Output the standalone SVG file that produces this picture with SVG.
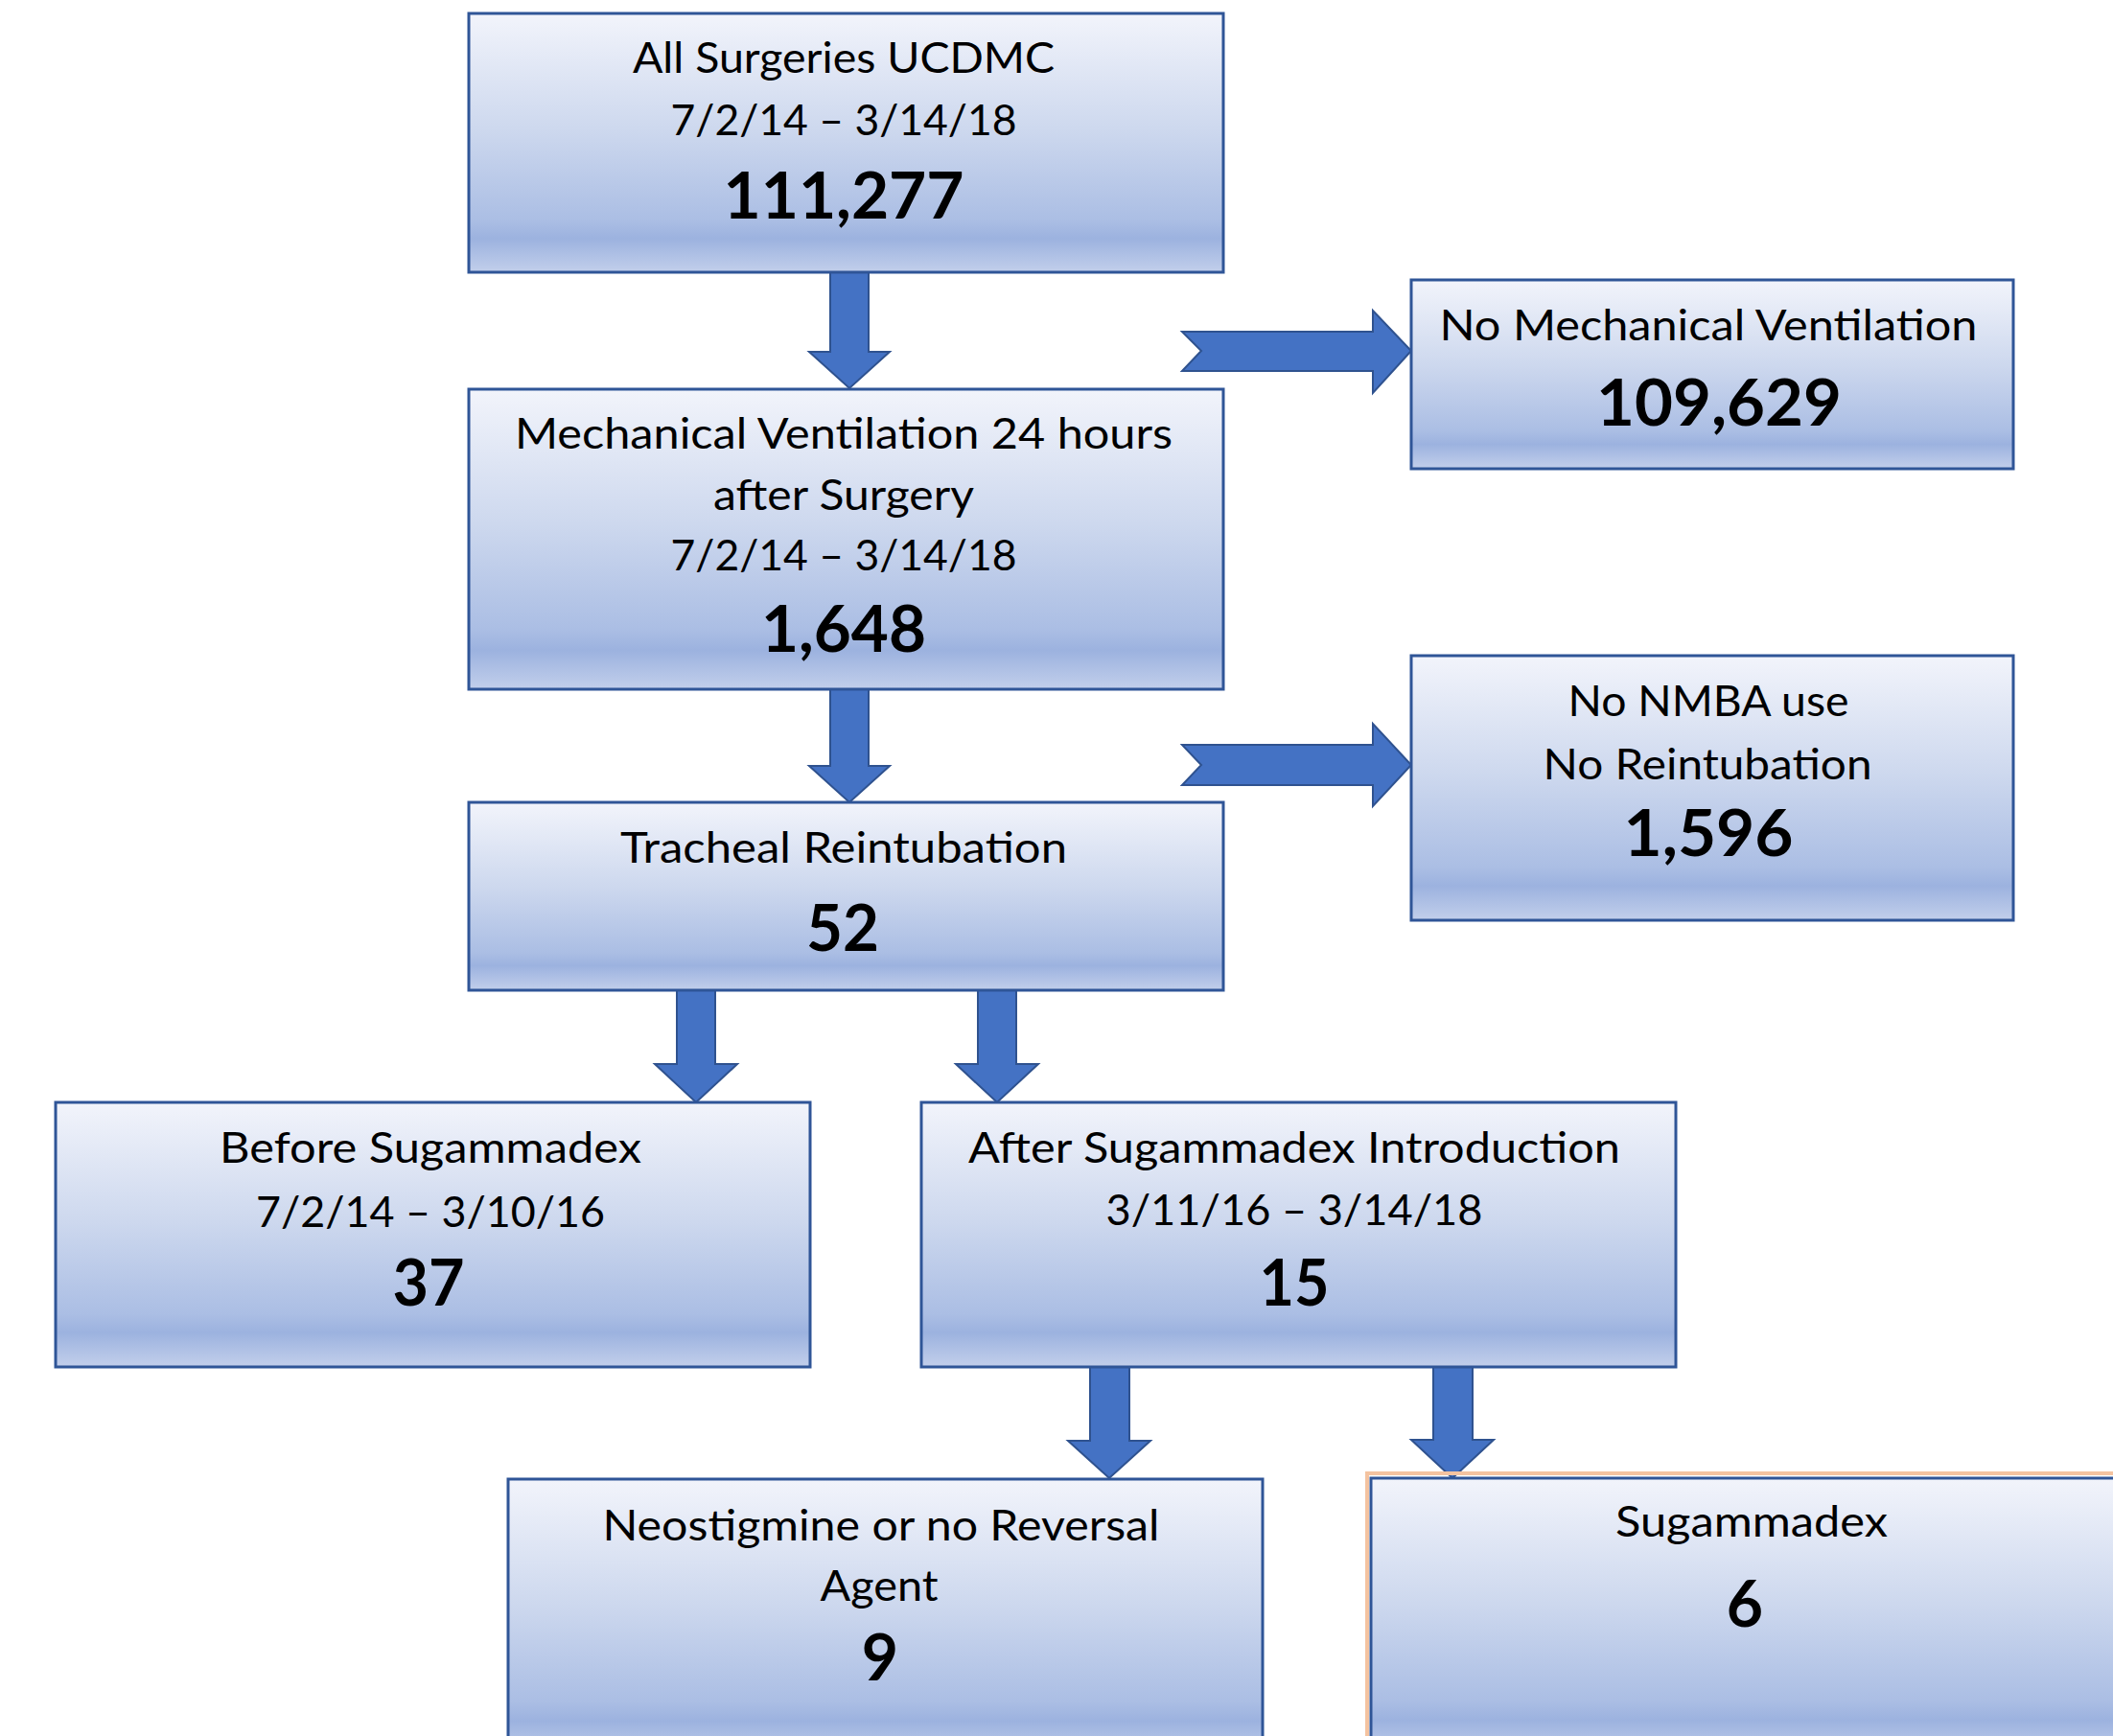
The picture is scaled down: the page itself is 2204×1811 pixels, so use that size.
<svg xmlns="http://www.w3.org/2000/svg" width="2204" height="1811" viewBox="0 0 2204 1811">
<style>
.box{fill:url(#boxGrad);stroke:#2F5597;stroke-width:3}
.arr{fill:#4472C4;stroke:#2F528F;stroke-width:2;stroke-linejoin:miter}
.t{font-family:Lato,"Liberation Sans",sans-serif;font-size:44px;fill:#000;text-anchor:middle}
.n{font-family:Lato,"Liberation Sans",sans-serif;font-size:66px;font-weight:bold;fill:#000;text-anchor:middle}
</style>
<defs>
<linearGradient id="boxGrad" x1="0" y1="0" x2="0" y2="1">
<stop offset="0" stop-color="#F2F4FB"/>
<stop offset="0.45" stop-color="#CDD8EE"/>
<stop offset="0.8" stop-color="#ABBEE4"/>
<stop offset="0.87" stop-color="#9CB2DF"/>
<stop offset="1" stop-color="#C2CFEB"/>
</linearGradient>
</defs>
<rect width="2204" height="1811" fill="#FFFFFF"/>
<g id="connectors">
<path class="arr" d="M866,284 H906 V367 H928 L886,405 L844,367 H866 Z"/>
<path class="arr" d="M866,719 H906 V799 H928 L886,837 L844,799 H866 Z"/>
<path class="arr" d="M706,1033 H746 V1110 H769 L726,1150 L683,1110 H706 Z"/>
<path class="arr" d="M1020,1033 H1060 V1110 H1083 L1040,1150 L997,1110 H1020 Z"/>
<path class="arr" d="M1137,1425 H1178 V1503 H1200 L1157,1542 L1114,1503 H1137 Z"/>
<path class="arr" d="M1495,1425 H1536 V1502 H1558 L1515,1542 L1472,1502 H1495 Z"/>
<path class="arr" d="M1233,346 H1432 V324 L1472,366 L1432,410 V387 H1233 L1253,366 Z"/>
<path class="arr" d="M1233,777 H1432 V755 L1472,798 L1432,841 V819 H1233 L1253,798 Z"/>
</g>
<g id="node-all-surgeries">
<rect class="box" x="489" y="14" width="787" height="270"/>
<text class="t" x="880" y="76" textLength="440" lengthAdjust="spacingAndGlyphs">All Surgeries UCDMC</text>
<text class="t" x="880" y="141" textLength="361" lengthAdjust="spacingAndGlyphs">7/2/14 – 3/14/18</text>
<text class="n" x="880" y="228" textLength="251" lengthAdjust="spacingAndGlyphs">111,277</text>
</g>
<g id="node-mech-vent">
<rect class="box" x="489" y="406" width="787" height="313"/>
<text class="t" x="880" y="468" textLength="686" lengthAdjust="spacingAndGlyphs">Mechanical Ventilation 24 hours</text>
<text class="t" x="880" y="532" textLength="272" lengthAdjust="spacingAndGlyphs">after Surgery</text>
<text class="t" x="880" y="595" textLength="361" lengthAdjust="spacingAndGlyphs">7/2/14 – 3/14/18</text>
<text class="n" x="880" y="680" textLength="172" lengthAdjust="spacingAndGlyphs">1,648</text>
</g>
<g id="node-no-mech-vent">
<rect class="box" x="1472" y="292" width="628" height="197"/>
<text class="t" x="1782" y="355" textLength="561" lengthAdjust="spacingAndGlyphs">No Mechanical Ventilation</text>
<text class="n" x="1793" y="444" textLength="256" lengthAdjust="spacingAndGlyphs">109,629</text>
</g>
<g id="node-no-nmba">
<rect class="box" x="1472" y="684" width="628" height="276"/>
<text class="t" x="1782" y="747" textLength="293" lengthAdjust="spacingAndGlyphs">No NMBA use</text>
<text class="t" x="1781" y="813" textLength="343" lengthAdjust="spacingAndGlyphs">No Reintubation</text>
<text class="n" x="1782" y="893" textLength="177" lengthAdjust="spacingAndGlyphs">1,596</text>
</g>
<g id="node-tracheal">
<rect class="box" x="489" y="837" width="787" height="196"/>
<text class="t" x="880" y="900" textLength="466" lengthAdjust="spacingAndGlyphs">Tracheal Reintubation</text>
<text class="n" x="879" y="992" textLength="76" lengthAdjust="spacingAndGlyphs">52</text>
</g>
<g id="node-before">
<rect class="box" x="58" y="1150" width="787" height="276"/>
<text class="t" x="449" y="1213" textLength="440" lengthAdjust="spacingAndGlyphs">Before Sugammadex</text>
<text class="t" x="449" y="1280" textLength="364" lengthAdjust="spacingAndGlyphs">7/2/14 – 3/10/16</text>
<text class="n" x="447" y="1362" textLength="75" lengthAdjust="spacingAndGlyphs">37</text>
</g>
<g id="node-after">
<rect class="box" x="961" y="1150" width="787" height="276"/>
<text class="t" x="1350" y="1213" textLength="680" lengthAdjust="spacingAndGlyphs">After Sugammadex Introduction</text>
<text class="t" x="1350" y="1278" textLength="393" lengthAdjust="spacingAndGlyphs">3/11/16 – 3/14/18</text>
<text class="n" x="1350" y="1362" textLength="73" lengthAdjust="spacingAndGlyphs">15</text>
</g>
<g id="node-neostigmine">
<rect class="box" x="530" y="1543" width="787" height="290"/>
<text class="t" x="919" y="1607" textLength="581" lengthAdjust="spacingAndGlyphs">Neostigmine or no Reversal</text>
<text class="t" x="917" y="1670" textLength="123" lengthAdjust="spacingAndGlyphs">Agent</text>
<text class="n" x="918" y="1753">9</text>
</g>
<g id="node-sugammadex">
<rect x="1426" y="1537" width="800" height="300" fill="none" stroke="#F4C3A0" stroke-width="4"/>
<rect class="box" x="1430" y="1542" width="787" height="290"/>
<text class="t" x="1827" y="1603" textLength="284" lengthAdjust="spacingAndGlyphs">Sugammadex</text>
<text class="n" x="1820" y="1697">6</text>
</g>
</svg>
